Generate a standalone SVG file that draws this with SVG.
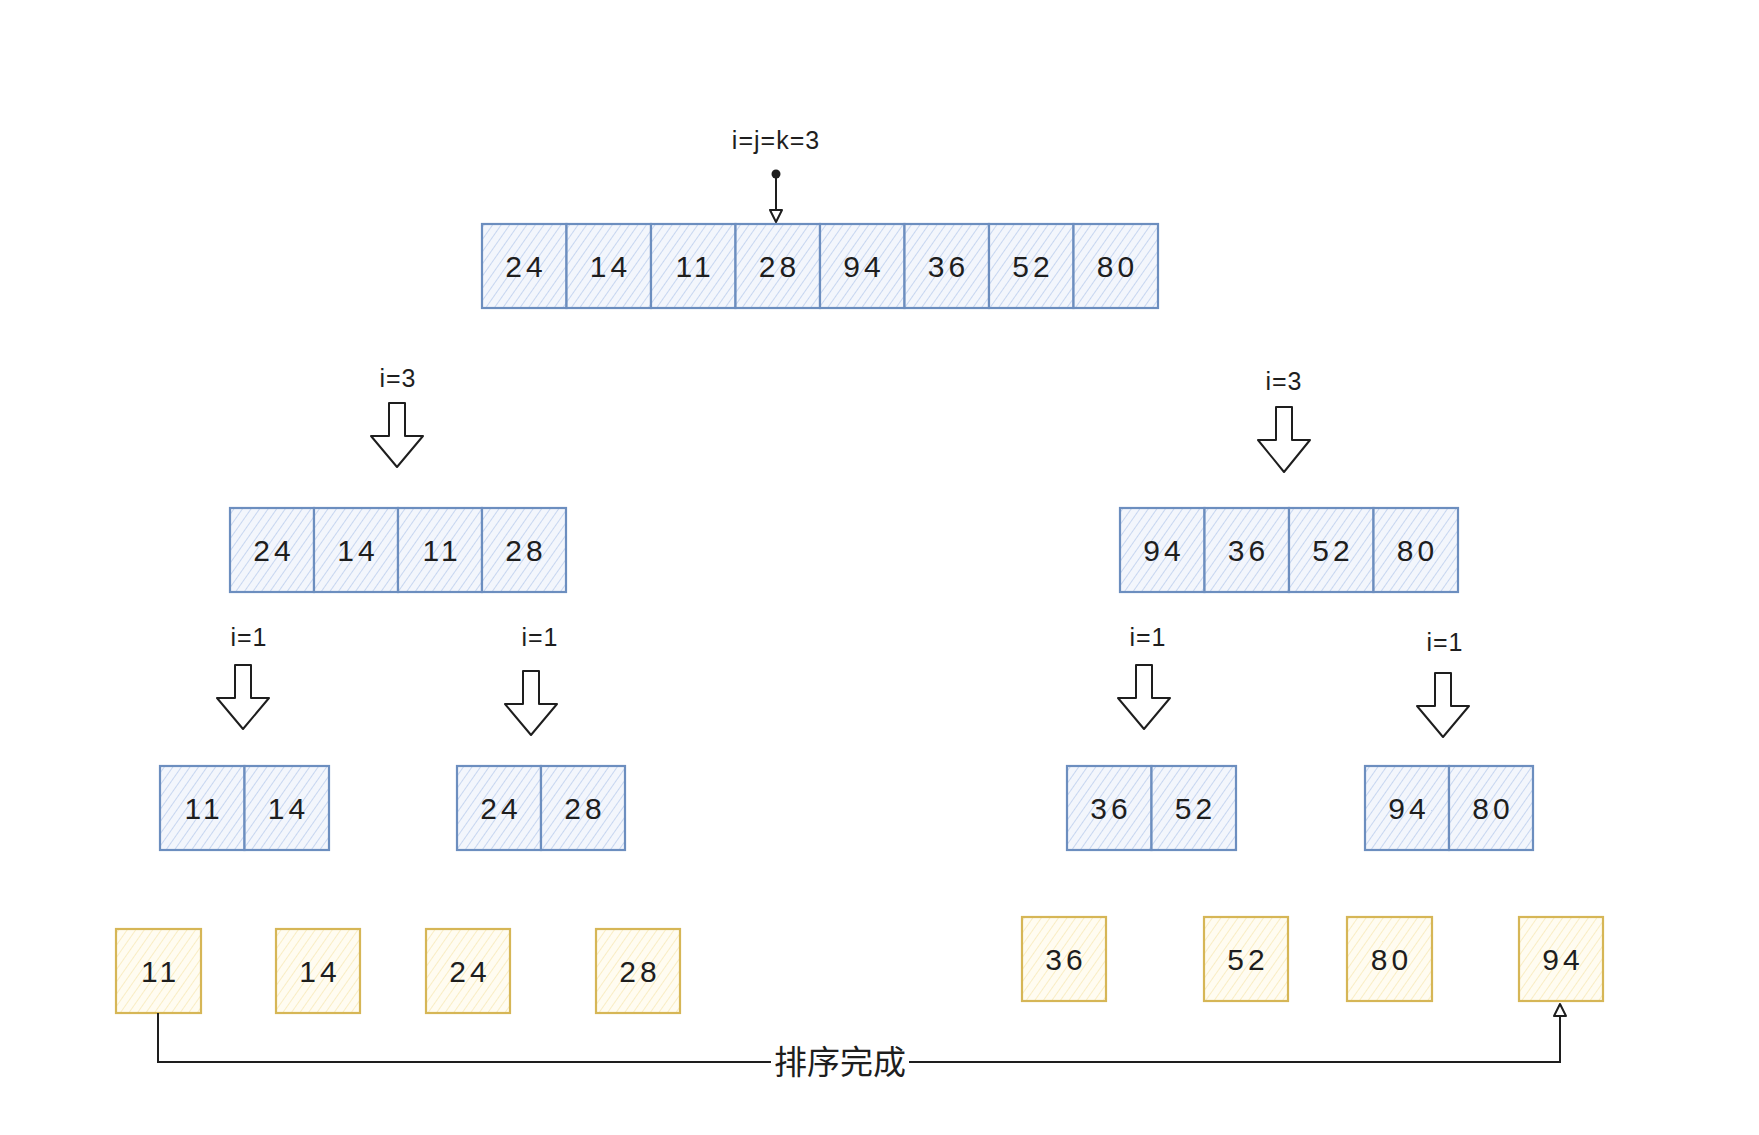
<svg xmlns="http://www.w3.org/2000/svg" width="1759" height="1135" viewBox="0 0 1759 1135">
<defs>
<pattern id="hb" patternUnits="userSpaceOnUse" width="7" height="7" patternTransform="rotate(35)">
<rect width="7" height="7" fill="#f3f6fc"/>
<line x1="0" y1="0" x2="0" y2="7" stroke="#a9c1e8" stroke-width="1.2"/>
</pattern>
<pattern id="hy" patternUnits="userSpaceOnUse" width="7" height="7" patternTransform="rotate(35)">
<rect width="7" height="7" fill="#fffcf1"/>
<line x1="0" y1="0" x2="0" y2="7" stroke="#f6e3a6" stroke-width="1.2"/>
</pattern>
</defs>
<style>
.b{fill:url(#hb);stroke:#6c8ebf;stroke-width:2.2}
.y{fill:url(#hy);stroke:#d6b656;stroke-width:2.2}
.n{font-family:"Liberation Sans",Arial,sans-serif;font-size:30px;letter-spacing:4px;fill:#1e1e1e;text-anchor:middle}
.l{font-family:"Liberation Sans",Arial,sans-serif;font-size:25px;letter-spacing:1px;fill:#1e1e1e;text-anchor:middle}
.ba{fill:#ffffff;stroke:#1e1e1e;stroke-width:2;stroke-linejoin:round}
.c{fill:none;stroke:#1e1e1e;stroke-width:2}
</style>
<rect width="1759" height="1135" fill="#ffffff"/>

<g id="row-top">
<g id="t0"><rect class="b" x="482" y="224" width="84.5" height="84"/><text class="n" x="526" y="277">24</text></g>
<g id="t1"><rect class="b" x="566.5" y="224" width="84.5" height="84"/><text class="n" x="610.5" y="277">14</text></g>
<g id="t2"><rect class="b" x="651" y="224" width="84.5" height="84"/><text class="n" x="695" y="277">11</text></g>
<g id="t3"><rect class="b" x="735.5" y="224" width="84.5" height="84"/><text class="n" x="779.5" y="277">28</text></g>
<g id="t4"><rect class="b" x="820" y="224" width="84.5" height="84"/><text class="n" x="864" y="277">94</text></g>
<g id="t5"><rect class="b" x="904.5" y="224" width="84.5" height="84"/><text class="n" x="948.5" y="277">36</text></g>
<g id="t6"><rect class="b" x="989" y="224" width="84.5" height="84"/><text class="n" x="1033" y="277">52</text></g>
<g id="t7"><rect class="b" x="1073.5" y="224" width="84.5" height="84"/><text class="n" x="1117.5" y="277">80</text></g>
</g>

<g id="row-left">
<g id="l0"><rect class="b" x="230" y="508" width="84" height="84"/><text class="n" x="274" y="561">24</text></g>
<g id="l1"><rect class="b" x="314" y="508" width="84" height="84"/><text class="n" x="358" y="561">14</text></g>
<g id="l2"><rect class="b" x="398" y="508" width="84" height="84"/><text class="n" x="442" y="561">11</text></g>
<g id="l3"><rect class="b" x="482" y="508" width="84" height="84"/><text class="n" x="526" y="561">28</text></g>
</g>

<g id="row-right">
<g id="r0"><rect class="b" x="1120" y="508" width="84.5" height="84"/><text class="n" x="1164" y="561">94</text></g>
<g id="r1"><rect class="b" x="1204.5" y="508" width="84.5" height="84"/><text class="n" x="1248.5" y="561">36</text></g>
<g id="r2"><rect class="b" x="1289" y="508" width="84.5" height="84"/><text class="n" x="1333" y="561">52</text></g>
<g id="r3"><rect class="b" x="1373.5" y="508" width="84.5" height="84"/><text class="n" x="1417.5" y="561">80</text></g>
</g>

<g id="pair1">
<g id="p1a"><rect class="b" x="160" y="766" width="84.5" height="84"/><text class="n" x="204" y="819">11</text></g>
<g id="p1b"><rect class="b" x="244.5" y="766" width="84.5" height="84"/><text class="n" x="288.5" y="819">14</text></g>
</g>
<g id="pair2">
<g id="p2a"><rect class="b" x="457" y="766" width="84" height="84"/><text class="n" x="501" y="819">24</text></g>
<g id="p2b"><rect class="b" x="541" y="766" width="84" height="84"/><text class="n" x="585" y="819">28</text></g>
</g>
<g id="pair3">
<g id="p3a"><rect class="b" x="1067" y="766" width="84.5" height="84"/><text class="n" x="1111" y="819">36</text></g>
<g id="p3b"><rect class="b" x="1151.5" y="766" width="84.5" height="84"/><text class="n" x="1195.5" y="819">52</text></g>
</g>
<g id="pair4">
<g id="p4a"><rect class="b" x="1365" y="766" width="84" height="84"/><text class="n" x="1409" y="819">94</text></g>
<g id="p4b"><rect class="b" x="1449" y="766" width="84" height="84"/><text class="n" x="1493" y="819">80</text></g>
</g>

<g id="y11"><rect class="y" x="116" y="929" width="85" height="84"/><text class="n" x="160.5" y="982">11</text></g>
<g id="y14"><rect class="y" x="276" y="929" width="84" height="84"/><text class="n" x="320" y="982">14</text></g>
<g id="y24"><rect class="y" x="426" y="929" width="84" height="84"/><text class="n" x="470" y="982">24</text></g>
<g id="y28"><rect class="y" x="596" y="929" width="84" height="84"/><text class="n" x="640" y="982">28</text></g>
<g id="y36"><rect class="y" x="1022" y="917" width="84" height="84"/><text class="n" x="1066" y="970">36</text></g>
<g id="y52"><rect class="y" x="1204" y="917" width="84" height="84"/><text class="n" x="1248" y="970">52</text></g>
<g id="y80"><rect class="y" x="1347" y="917" width="85" height="84"/><text class="n" x="1391.5" y="970">80</text></g>
<g id="y94"><rect class="y" x="1519" y="917" width="84" height="84"/><text class="n" x="1563" y="970">94</text></g>

<g id="labels">
<text class="l" x="776" y="149">i=j=k=3</text>
<text class="l" x="398" y="387">i=3</text>
<text class="l" x="1284" y="390">i=3</text>
<text class="l" x="249" y="646">i=1</text>
<text class="l" x="540" y="646">i=1</text>
<text class="l" x="1148" y="646">i=1</text>
<text class="l" x="1445" y="651">i=1</text>
</g>

<g id="block-arrows">
<path class="ba" d="M389,403 L405,403 L405,436 L423,436 L397,467 L371,436 L389,436 Z"/>
<path class="ba" d="M1276,407 L1292,407 L1292,440 L1310,440 L1284,472 L1258,440 L1276,440 Z"/>
<path class="ba" d="M235,665 L251,665 L251,698 L269,698 L243,729 L217,698 L235,698 Z"/>
<path class="ba" d="M523,671 L539,671 L539,704 L557,704 L531,735 L505,704 L523,704 Z"/>
<path class="ba" d="M1136,665 L1152,665 L1152,698 L1170,698 L1144,729 L1118,698 L1136,698 Z"/>
<path class="ba" d="M1435,673 L1451,673 L1451,706 L1469,706 L1443,737 L1417,706 L1435,706 Z"/>
</g>

<g id="connectors">
<circle cx="776" cy="174" r="4.5" fill="#1e1e1e"/>
<path class="c" d="M776,174 L776,216"/>
<path class="ba" d="M776,222 L770,210 L782,210 Z"/>
<path class="c" d="M158,1013 L158,1062 L1560,1062 L1560,1010"/>
<path class="ba" d="M1560,1004 L1554,1016 L1566,1016 Z"/>
<rect x="771" y="1044" width="138" height="36" fill="#ffffff"/>
<text x="840" y="1074" font-family="'Noto Sans CJK SC',sans-serif" font-size="33" fill="#1e1e1e" text-anchor="middle">排序完成</text>
</g>
</svg>
